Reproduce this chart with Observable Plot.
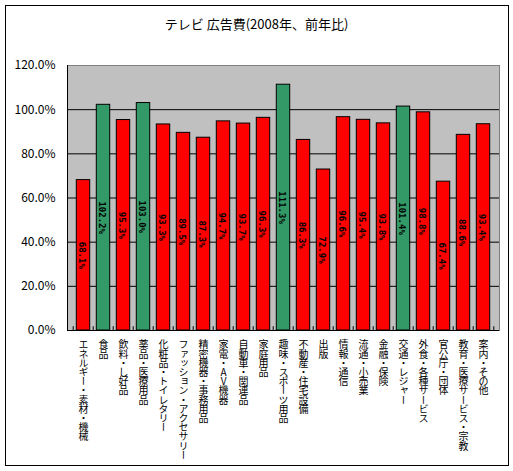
<!DOCTYPE html>
<html>
<head>
<meta charset="utf-8">
<script src="https://cdn.jsdelivr.net/npm/d3@7"></script>
<script src="https://cdn.jsdelivr.net/npm/@observablehq/plot@0.6"></script>
<style>
  html, body { margin: 0; padding: 0; background: #fff; }
</style>
</head>
<body>
<div id="chart"></div>
<script>
const title = "テレビ 広告費(2008年、前年比)";
const categories = [
  "エネルギー・素材・機械", "食品", "飲料・し好品", "薬品・医療用品",
  "化粧品・トイレタリー", "ファッション・アクセサリー", "精密機器・事務用品",
  "家電・AV機器", "自動車・関連品", "家庭用品", "趣味・スポーツ用品",
  "不動産・住宅設備", "出版", "情報・通信", "流通・小売業", "金融・保険",
  "交通・レジャー", "外食・各種サービス", "官公庁・団体",
  "教育・医療サービス・宗教", "案内・その他"
];
const values = [
  68.1, 102.2, 95.3, 103.0, 93.3, 89.5, 87.3, 94.7, 93.7, 96.3, 111.3,
  86.3, 72.9, 96.6, 95.4, 93.8, 101.4, 98.8, 67.4, 88.6, 93.4
];
const yTicks = [0, 20, 40, 60, 80, 100, 120];

const data = categories.map((c, i) => ({cat: c, value: values[i]}));

const W = 513, H = 471;
const mL = 67, mR = 14, mT = 65, mB = 141;
const step = (W - mL - mR) / categories.length;
const inset = step * 0.16;
const jp = "'Noto Sans CJK JP', sans-serif";

const plot = Plot.plot({
  width: W,
  height: H,
  marginLeft: mL,
  marginRight: mR,
  marginTop: mT,
  marginBottom: mB,
  style: {fontFamily: jp, fontSize: "12px", color: "black", background: "white"},
  x: {domain: categories, axis: null, padding: 0},
  y: {
    domain: [0, 120],
    ticks: yTicks,
    tickFormat: d => d.toFixed(1) + "%",
    tickSize: 0,
    tickPadding: 12,
    label: null
  },
  marks: [
    Plot.frame({fill: "#c0c0c0", stroke: "#808080"}),
    Plot.ruleY(yTicks.filter(t => t > 0 && t < 120), {stroke: "black"}),
    Plot.barY(data, {
      x: "cat", y: "value",
      fill: d => d.value > 100 ? "#339966" : "#ff0000",
      stroke: "black", strokeWidth: 1,
      insetLeft: inset, insetRight: inset
    }),
    Plot.text(data, {
      x: "cat", y: d => d.value / 2,
      text: d => d.value.toFixed(1) + "%",
      rotate: 90, fontWeight: "bold", fontSize: 9,
      fontFamily: "'DejaVu Sans Mono', monospace", fill: "black", dx: -2
    }),
    Plot.ruleY([0], {stroke: "black"}),
    Plot.ruleX(categories, {x: d => d, y1: 0, y2: 1.7, stroke: "black", dx: -step / 2}),
    Plot.ruleX(categories.slice(-1), {x: d => d, y1: 0, y2: 1.7, stroke: "black", dx: step / 2}),
    Plot.text(categories, {
      x: d => d, text: d => d, frameAnchor: "bottom", dy: 9,
      fontSize: 10, fill: "black"
    })
  ]
});

const svg = d3.select(plot);
const catSet = new Set(categories);
// vertical Japanese labels
svg.selectAll("text")
  .filter(function () { return catSet.has(this.textContent); })
  .attr("y", null).attr("dy", null)
  .attr("text-anchor", "start")
  .attr("writing-mode", "tb")
  .style("writing-mode", "vertical-rl")
  .style("text-orientation", "upright")
  .style("dominant-baseline", "central")
  .style("letter-spacing", "-0.8px");
// left axis line
svg.append("line")
  .attr("x1", mL + 0.5).attr("x2", mL + 0.5)
  .attr("y1", mT).attr("y2", H - mB)
  .attr("stroke", "black");
// title
svg.append("text")
  .attr("x", W / 2).attr("y", 29)
  .attr("text-anchor", "middle")
  .style("font-size", "13px")
  .attr("fill", "black")
  .text(title);
// outer border
svg.append("rect")
  .attr("x", 5.5).attr("y", 5.5)
  .attr("width", 503).attr("height", 460)
  .attr("fill", "none").attr("stroke", "black");

document.getElementById("chart").appendChild(plot);
</script>
</body>
</html>
